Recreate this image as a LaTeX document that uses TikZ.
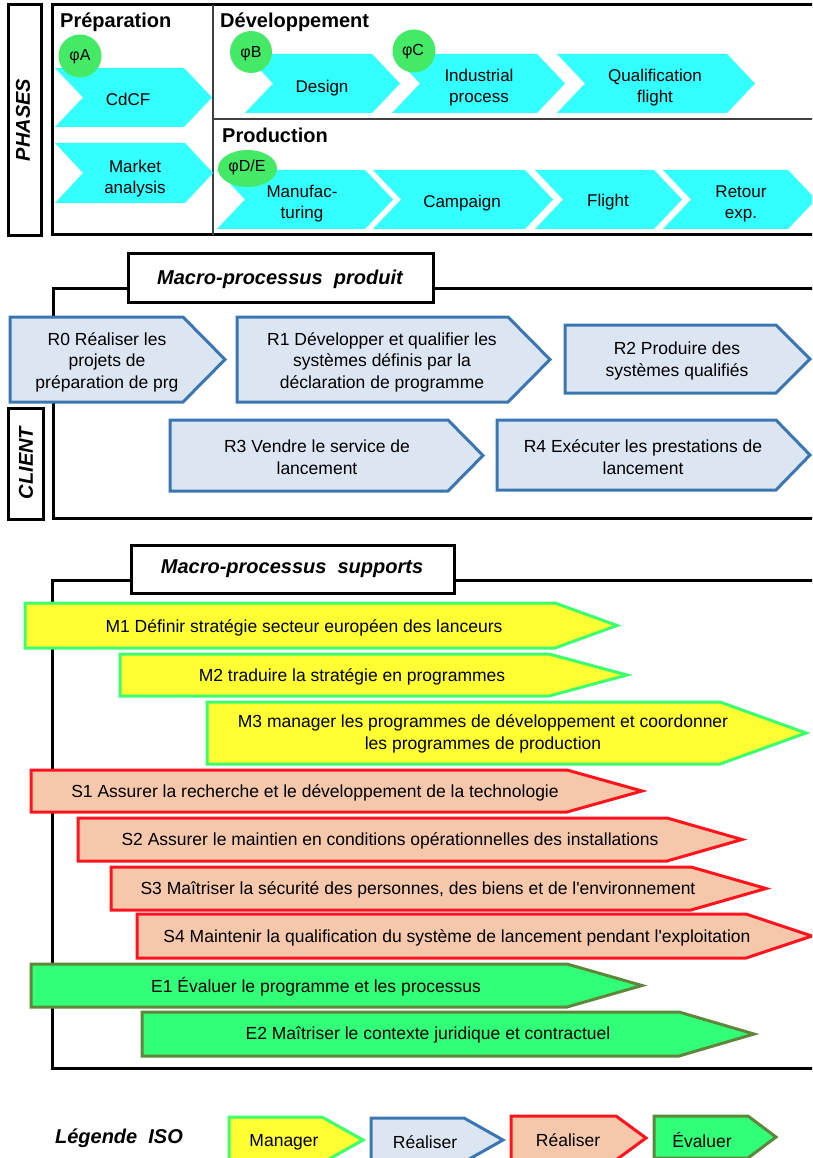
\documentclass[tikz,border=0pt]{standalone}
\usepackage{fontspec}
\setmainfont{Liberation Sans}
\usetikzlibrary{positioning}

\definecolor{phasecyan}{RGB}{51,255,255}
\definecolor{phigreen}{RGB}{68,234,102}
\definecolor{realfill}{RGB}{220,230,242}
\definecolor{realline}{RGB}{58,118,178}
\definecolor{mgrfill}{RGB}{255,255,51}
\definecolor{mgrline}{RGB}{60,255,110}
\definecolor{supfill}{RGB}{245,200,172}
\definecolor{supline}{RGB}{255,20,30}
\definecolor{evalfill}{RGB}{50,255,120}
\definecolor{evalline}{RGB}{95,135,60}

\tikzset{
    heavyline/.style    = {black, line width=3pt},
    divider/.style      = {black!75, line width=1.5pt},
    phasearrow/.style   = {fill=phasecyan},
    phibubble/.style    = {fill=phigreen},
    realarrow/.style    = {fill=realfill, draw=realline, line width=3pt, line join=miter},
    mgrarrow/.style     = {fill=mgrfill, draw=mgrline, line width=3pt, line join=miter},
    suparrow/.style     = {fill=supfill, draw=supline, line width=3pt, line join=miter},
    evalarrow/.style    = {fill=evalfill, draw=evalline, line width=3pt, line join=miter},
    phasetxt/.style     = {font=\fontsize{17}{21}\selectfont, align=center, inner sep=0pt},
    proctxt/.style      = {font=\fontsize{17.5}{21.5}\selectfont, align=center, inner sep=0pt},
    phitxt/.style       = {font=\fontsize{16}{18}\selectfont, inner sep=0pt},
    headtxt/.style      = {font=\fontsize{20}{22}\selectfont\bfseries, anchor=west, inner sep=0pt},
    titletxt/.style     = {font=\fontsize{20}{22}\selectfont\bfseries\itshape, inner sep=0pt},
}

\begin{document}
\begin{tikzpicture}[x=1pt, y=-1pt]
    \clip (0,0) rectangle (812,1158);

    % ---------------- phases ----------------
    \draw       [heavyline]             (8,5) rectangle (41,236);                   % PHASES box
    \draw       [heavyline]             (52,5) rectangle (830,235);                 % phases frame
    \draw       [divider]               (213,5) -- (213,235);                       % vertical divider
    \draw       [divider]               (213,119) -- (830,119);                     % horizontal divider
    \node       [titletxt, rotate=90]   (phases)  at (23,120)   {PHASES};

    \node       [headtxt]   (prep)  at (60,22)      {Préparation};
    \node       [headtxt]   (dev)   at (220,22)     {Développement};
    \node       [headtxt]   (prod)  at (222,135)    {Production};

    \fill [phasearrow] (55,68) -- (184,68) -- (212,97.5) -- (184,127) -- (55,127) -- (83,97.5) -- cycle;        % CdCF
    \fill [phasearrow] (55,143) -- (185,143) -- (213,173) -- (185,203) -- (55,203) -- (83,173) -- cycle;        % Market analysis
    \fill [phasearrow] (245,54) -- (372,54) -- (400,83.5) -- (372,113) -- (245,113) -- (273,83.5) -- cycle;     % Design
    \fill [phasearrow] (392,54) -- (537,54) -- (565,83.5) -- (537,113) -- (392,113) -- (420,83.5) -- cycle;     % Industrial process
    \fill [phasearrow] (557,54) -- (727,54) -- (755,83.5) -- (727,113) -- (557,113) -- (585,83.5) -- cycle;     % Qualification flight
    \fill [phasearrow] (217,170) -- (365,170) -- (393,199.5) -- (365,229) -- (217,229) -- (245,199.5) -- cycle; % Manufacturing
    \fill [phasearrow] (373,170) -- (525,170) -- (553,199.5) -- (525,229) -- (373,229) -- (401,199.5) -- cycle; % Campaign
    \fill [phasearrow] (535,170) -- (654,170) -- (682,199.5) -- (654,229) -- (535,229) -- (563,199.5) -- cycle; % Flight
    \fill [phasearrow] (663,170) -- (788,170) -- (816,199.5) -- (788,229) -- (663,229) -- (691,199.5) -- cycle; % Retour exp.

    \node       [phasetxt]  (cdcf)   at (128,99)     {CdCF};
    \node       [phasetxt]  (market) at (135,179)    {Market\\analysis};
    \node       [phasetxt]  (design) at (322,88)     {Design};
    \node       [phasetxt]  (indus)  at (479,88)     {Industrial\\process};
    \node       [phasetxt]  (qualif) at (655,88)     {Qualification\\flight};
    \node       [phasetxt]  (manuf)  at (302,204)    {Manufac-\\turing};
    \node       [phasetxt]  (camp)   at (462,203)    {Campaign};
    \node       [phasetxt]  (flight) at (608,202)    {Flight};
    \node       [phasetxt]  (retour) at (741,204)    {Retour\\exp.};

    \fill       [phibubble]             (80,56) circle (21.5pt);                    % phase A
    \fill       [phibubble]             (251,52) circle (21pt);                     % phase B
    \fill       [phibubble]             (414,51) circle (21.5pt);                   % phase C
    \fill       [phibubble]             (247.5,168.5) ellipse (29.5pt and 18.5pt);  % phase D/E
    \node       [phitxt]    (phiA)  at (80,57)      {φA};
    \node       [phitxt]    (phiB)  at (251,54)     {φB};
    \node       [phitxt]    (phiC)  at (413,52)     {φC};
    \node       [phitxt]    (phiDE) at (247,167)    {φD/E};

    % ---------------- macro-processus produit ----------------
    \draw       [heavyline]             (53,288) rectangle (830,518);               % produit frame
    \draw       [heavyline, fill=white] (128,253) rectangle (433,302);              % produit title
    \node       [titletxt]  (produit) at (280,279)  {Macro-processus\ \ produit};
    \draw       [heavyline, fill=white] (8,408) rectangle (43,519);                 % CLIENT box
    \node       [titletxt, rotate=90]   (client)  at (26,463)   {CLIENT};

    \filldraw [realarrow] (10,317) -- (183,317) -- (225,359.5) -- (183,402) -- (10,402) -- cycle;       % R0
    \filldraw [realarrow] (237,317) -- (508,317) -- (550,359.5) -- (508,402) -- (237,402) -- cycle;     % R1
    \filldraw [realarrow] (565,325) -- (776,325) -- (810,359) -- (776,393) -- (565,393) -- cycle;       % R2
    \filldraw [realarrow] (170,420) -- (448,420) -- (483,455.5) -- (448,491) -- (170,491) -- cycle;     % R3
    \filldraw [realarrow] (497,420) -- (776,420) -- (810,455) -- (776,490) -- (497,490) -- cycle;       % R4

    \node       [proctxt]   (r0) at (107,362)   {R0 Réaliser les\\projets de\\préparation de prg};
    \node       [proctxt]   (r1) at (382,362)   {R1 Développer et qualifier les\\systèmes définis par la\\déclaration de programme};
    \node       [proctxt]   (r2) at (677,361)   {R2 Produire des\\systèmes qualifiés};
    \node       [proctxt]   (r3) at (317,457)   {R3 Vendre le service de\\lancement};
    \node       [proctxt]   (r4) at (643,457)   {R4 Exécuter les prestations de\\lancement};

    % ---------------- macro-processus supports ----------------
    \draw       [heavyline]             (52,580) rectangle (830,1068);              % supports frame
    \draw       [heavyline, fill=white] (131,545) rectangle (454,593);              % supports title
    \node       [titletxt]  (supports) at (292,569) {Macro-processus\ \ supports};

    \filldraw [mgrarrow]  (25,603) -- (555,603) -- (617,625.5) -- (555,648) -- (25,648) -- cycle;       % M1
    \filldraw [mgrarrow]  (120,654) -- (549,654) -- (627,675) -- (549,696) -- (120,696) -- cycle;       % M2
    \filldraw [mgrarrow]  (207,702) -- (720,702) -- (806,733) -- (720,764) -- (207,764) -- cycle;       % M3
    \filldraw [suparrow]  (31,770) -- (567,770) -- (642,791) -- (567,812) -- (31,812) -- cycle;         % S1
    \filldraw [suparrow]  (78,818) -- (667,818) -- (742,839.5) -- (667,861) -- (78,861) -- cycle;       % S2
    \filldraw [suparrow]  (111,867) -- (691,867) -- (766,888.5) -- (691,910) -- (111,910) -- cycle;     % S3
    \filldraw [suparrow]  (137,914) -- (746,914) -- (812,936) -- (746,958) -- (137,958) -- cycle;       % S4
    \filldraw [evalarrow] (31,964) -- (567,964) -- (642,985.5) -- (567,1007) -- (31,1007) -- cycle;     % E1
    \filldraw [evalarrow] (142,1012) -- (679,1012) -- (754,1034) -- (679,1056) -- (142,1056) -- cycle;  % E2

    \node       [proctxt]   (m1) at (304,628)   {M1 Définir stratégie secteur européen des lanceurs};
    \node       [proctxt]   (m2) at (352,677)   {M2 traduire la stratégie en programmes};
    \node       [proctxt]   (m3) at (483,734)   {M3 manager les programmes de développement et coordonner\\les programmes de production};
    \node       [proctxt]   (s1) at (315,793)   {S1 Assurer la recherche et le développement de la technologie};
    \node       [proctxt]   (s2) at (390,841)   {S2 Assurer le maintien en conditions opérationnelles des installations};
    \node       [proctxt]   (s3) at (418,890)   {S3 Maîtriser la sécurité des personnes, des biens et de l\textquotesingle environnement};
    \node       [proctxt]   (s4) at (457,938)   {S4 Maintenir la qualification du système de lancement pendant l\textquotesingle exploitation};
    \node       [proctxt]   (e1) at (316,987)   {E1 Évaluer le programme et les processus};
    \node       [proctxt]   (e2) at (428,1035)  {E2 Maîtriser le contexte juridique et contractuel};

    % ---------------- legende ----------------
    \node       [titletxt]  (legende) at (119,1138) {Légende\ \ ISO};
    \filldraw [mgrarrow]  (229,1117) -- (322,1117) -- (363,1140) -- (322,1163) -- (229,1163) -- cycle;  % Manager
    \filldraw [realarrow] (371,1118) -- (464,1118) -- (503,1140) -- (464,1162) -- (371,1162) -- cycle;  % Realiser (R)
    \filldraw [suparrow]  (511,1116) -- (616,1116) -- (646,1138) -- (616,1160) -- (511,1160) -- cycle;  % Realiser (S)
    \filldraw [evalarrow] (654,1116) -- (748,1116) -- (776,1137) -- (748,1158) -- (654,1158) -- cycle;  % Evaluer
    \node       [proctxt]   (lmgr)  at (284,1142)   {Manager};
    \node       [proctxt]   (lreal) at (425,1142)   {Réaliser};
    \node       [proctxt]   (lsup)  at (568,1140)   {Réaliser};
    \node       [proctxt]   (leval) at (702,1140)   {Évaluer};
\end{tikzpicture}
\end{document}
